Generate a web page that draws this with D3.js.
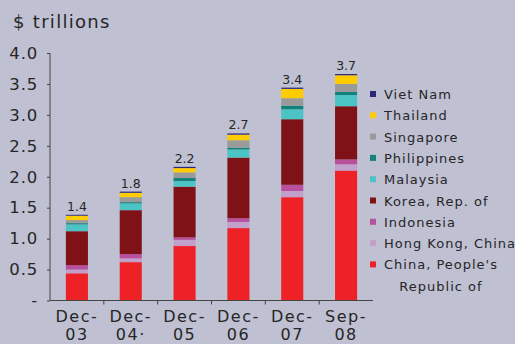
<!DOCTYPE html>
<html>
<head>
<meta charset="utf-8">
<script src="https://cdn.jsdelivr.net/npm/d3@7"></script>
<style>
  html, body { margin: 0; padding: 0; background: #bfc0d2; }
  svg { display: block; }
  text { font-family: "DejaVu Sans", Verdana, sans-serif; fill: #262626; }
</style>
</head>
<body>
<svg id="chart" width="515" height="344"></svg>
<script>
// Periods on the x axis (two-line labels)
const periods = ["Dec-03", "Dec-04", "Dec-05", "Dec-06", "Dec-07", "Sep-08"];
const periodLines = [["Dec-", "03"], ["Dec-", "04·"], ["Dec-", "05"], ["Dec-", "06"], ["Dec-", "07"], ["Sep-", "08"]];

// Stacked series, bottom to top ($ trillions)
const seriesNames = ["China, People's Republic of", "Hong Kong, China", "Indonesia", "Korea, Rep. of",
  "Malaysia", "Philippines", "Singapore", "Thailand", "Viet Nam"];
const china       = [0.44, 0.62, 0.88, 1.17, 1.67, 2.10];
const hongKong    = [0.06, 0.06, 0.10, 0.10, 0.10, 0.10];
const indonesia   = [0.07, 0.07, 0.04, 0.06, 0.10, 0.08];
const korea       = [0.55, 0.71, 0.82, 0.98, 1.06, 0.86];
const malaysia    = [0.11, 0.11, 0.09, 0.13, 0.16, 0.18];
const philippines = [0.02, 0.02, 0.05, 0.03, 0.06, 0.05];
const singapore   = [0.05, 0.08, 0.09, 0.12, 0.12, 0.13];
const thailand    = [0.07, 0.07, 0.07, 0.09, 0.15, 0.14];
const vietNam     = [0.015, 0.02, 0.02, 0.02, 0.02, 0.02];

const seriesValues = [china, hongKong, indonesia, korea, malaysia, philippines, singapore, thailand, vietNam];
const seriesColors = ["#ee2226", "#c2a0cc", "#b8509e", "#7e1216", "#4cc4c6", "#14827c", "#9a9a9a", "#ffcc00", "#2a2a78"];

const yTicks = [0, 0.5, 1.0, 1.5, 2.0, 2.5, 3.0, 3.5, 4.0];

const svg = d3.select("#chart");

const x = d3.scaleBand().domain(periods).range([50, 373]).paddingInner(0.59).paddingOuter(0.295);
const y = d3.scaleLinear().domain([0, 4]).range([300.5, 53]);

// Table for the stack layout
const rows = periods.map((p, i) => {
  const r = { period: p };
  seriesNames.forEach((s, k) => { r[s] = seriesValues[k][i]; });
  return r;
});
const stacked = d3.stack().keys(seriesNames)(rows);

// Unit title
svg.append("text")
  .attr("x", 13).attr("y", 28)
  .style("font-size", "18px").style("letter-spacing", "1.3px")
  .text("$ trillions");

// Y axis
const yAxis = d3.axisLeft(y).tickValues(yTicks).tickSize(3).tickPadding(9)
  .tickFormat(d => d === 0 ? "-" : d3.format(".1f")(d));
const gy = svg.append("g").attr("transform", "translate(50,0)").call(yAxis);
gy.select(".domain").attr("stroke", "#444").attr("d", `M0,${y(4)}V${y(0)}`);
gy.selectAll(".tick line").attr("stroke", "#444");
gy.selectAll(".tick text").style("font-size", "16.5px").style("letter-spacing", "0.8px")
  .style("font-family", "'DejaVu Sans', Verdana, sans-serif").attr("fill", "#262626");

// Bars
svg.append("g").selectAll("g").data(stacked).join("g")
  .attr("fill", (d, k) => seriesColors[k])
  .selectAll("rect").data(d => d).join("rect")
  .attr("x", d => x(d.data.period))
  .attr("width", x.bandwidth())
  .attr("y", d => y(d[1]))
  .attr("height", d => y(d[0]) - y(d[1]));

// X axis line and boundary ticks
svg.append("line").attr("x1", 50).attr("x2", 373).attr("y1", y(0)).attr("y2", y(0))
  .attr("stroke", "#444");
periods.slice(1).forEach(p => {
  const bx = x(p) - x.step() * x.paddingInner() / 2;
  svg.append("line").attr("x1", bx).attr("x2", bx).attr("y1", y(0)).attr("y2", y(0) + 4)
    .attr("stroke", "#444");
});

// X labels
periods.forEach((p, i) => {
  const cx = x(p) + x.bandwidth() / 2;
  const t = svg.append("text").attr("text-anchor", "middle")
    .style("font-size", "16px").style("letter-spacing", "1.5px");
  t.append("tspan").attr("x", cx).attr("y", 322).text(periodLines[i][0]);
  t.append("tspan").attr("x", cx).attr("y", 340).text(periodLines[i][1]);
});

// Totals above bars
const totals = periods.map((p, i) => d3.sum(seriesValues, s => s[i]));
svg.append("g").selectAll("text").data(periods).join("text")
  .attr("x", p => x(p) + x.bandwidth() / 2)
  .attr("y", (p, i) => y(totals[i]) - 4)
  .attr("text-anchor", "middle")
  .style("font-size", "12.5px")
  .text((p, i) => d3.format(".1f")(totals[i]));

// Legend, top entry is the top of the stack
const legendNames = ["Viet Nam", "Thailand", "Singapore", "Philippines", "Malaysia", "Korea, Rep. of",
  "Indonesia", "Hong Kong, China", "China, People's"];
const legendColors = seriesColors.slice().reverse();
const lg = svg.append("g");
legendNames.forEach((name, i) => {
  const cy = 94 + i * 21.3;
  lg.append("rect").attr("x", 370).attr("y", cy - 3).attr("width", 6).attr("height", 6)
    .attr("fill", legendColors[i]);
  const t = lg.append("text").attr("x", 384).attr("y", cy + 5)
    .style("font-size", "13px").style("letter-spacing", "1px").text(name);
  if (i === legendNames.length - 1) {
    const w = t.node().getComputedTextLength();
    lg.append("text").attr("x", 384 + w / 2).attr("y", cy + 5 + 21.3)
      .attr("text-anchor", "middle")
      .style("font-size", "13px").style("letter-spacing", "1px").text("Republic of");
  }
});
</script>
</body>
</html>
